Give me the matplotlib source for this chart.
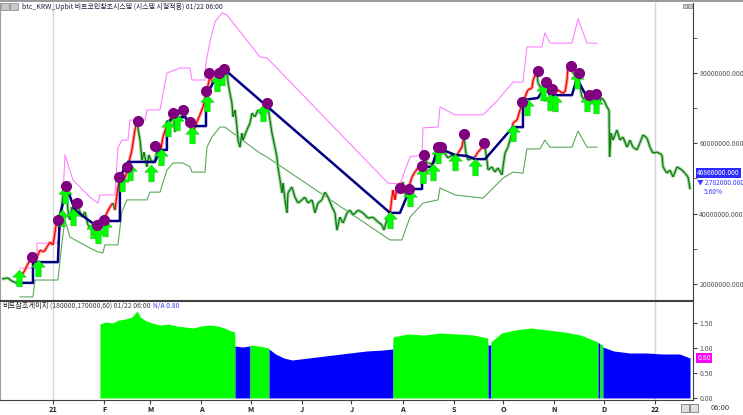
import matplotlib
matplotlib.use('Agg')
import matplotlib.pyplot as plt
import matplotlib.transforms as mtransforms
from matplotlib.collections import LineCollection
from matplotlib.patches import Rectangle
from matplotlib.path import Path
from matplotlib.ticker import FuncFormatter
import numpy as np

plt.rcParams['font.family'] = ['Noto Sans CJK KR', 'DejaVu Sans']

# x values are days counted from 2021-01-01, prices in million KRW
price_day = [-30.9, -27.3, -24.9, -23.0, -21.8, -20.0,
             -17.6, -15.8, -13.9, -12.1, -10.3, -7.9, -5.5, -3.6, -1.8, 0.0, 1.2, 2.4, 3.6,
             4.5, 6.1, 7.9, 9.1, 10.3, 11.5, 13.3, 15.2, 17.6, 19.4, 21.2, 23.6, 25.5, 26.7,
             28.5, 30.3, 32.7, 34.6, 36.4, 37.6, 39.4, 41.8, 43.7, 44.9, 47.9, 49.7, 50.9,
             52.8, 54.0, 55.2, 57.0, 58.2, 60.0, 61.9, 63.1, 64.9,
             66.7, 69.1, 70.9, 72.8, 74.0, 75.8, 78.8, 81.3, 83.1, 84.9,
             87.3, 89.1, 91.0, 93.4, 95.2, 97.0, 100.1, 103.1,
             105.5, 106.4, 107.3, 108.5, 109.2, 110.4, 111.6, 112.2, 113.4, 114.6, 115.2, 117.6,
             119.5, 120.7, 122.5, 124.3, 126.7, 128.6, 129.8,
             131.6, 132.8, 134.6, 135.8, 136.4, 137.7, 138.9, 139.5, 140.7, 141.9, 142.5, 144.9,
             146.7, 148.6, 151.0, 152.8, 154.6, 157.1, 158.9, 160.7, 163.1, 164.9, 166.8, 169.2,
             171.0, 172.2, 174.0, 175.9, 178.3, 180.1,
             182.0, 185.0, 188.0, 191.0, 194.0, 197.1, 199.5, 200.7, 202.5, 204.4,
             205.6, 206.2, 207.4, 208.6, 210.4, 211.6, 212.2, 213.5, 214.7, 215.3, 217.7, 219.5,
             221.3, 223.8, 225.6, 227.4, 230.4, 232.9, 233.5, 235.9, 237.7, 239.5, 242.0, 243.8,
             245.6, 248.0, 249.2, 250.4, 251.7, 254.1, 255.9, 257.7, 260.1, 261.4, 263.2, 263.8,
             266.2, 268.0, 269.8, 272.3, 272.9, 274.1, 275.9, 278.3,
             278.9, 281.4, 283.2, 285.0, 288.0, 290.5, 291.1, 293.5,
             294.1, 296.5, 298.3, 300.2, 302.6, 304.4, 306.2, 308.7, 310.5, 311.7, 312.3, 314.1,
             315.3, 317.8, 319.6, 320.8, 322.6, 324.4, 326.8, 328.7, 330.5, 332.9, 334.7, 335.9,
             337.2, 337.5, 338.4, 339.6, 342.0, 343.8, 345.6, 348.1, 349.9, 351.7, 354.1, 355.9,
             357.8, 360.2, 362.0, 363.8, 366.3, 369.3, 369.9, 372.3, 374.1, 376.0, 378.4, 381.4,
             383.2, 385.1, 386.3]
price_mkrw = [21.4, 21.7, 20.8, 20.5, 20.0, 22.0,
              23.4, 25.1, 26.8, 27.7, 26.8, 29.6, 29.1, 30.5, 31.9, 31.1, 34.5, 38.2, 39.0,
              36.2, 45.9, 47.6, 41.0, 38.2, 41.9, 39.6, 41.9, 39.0, 40.5, 36.8, 35.3, 34.5, 33.3,
              38.2, 37.6, 40.2, 41.9, 43.0, 41.0, 47.6, 51.5, 50.1, 52.4, 58.1, 63.8, 66.1,
              60.9, 55.2, 57.5, 53.3, 56.7, 54.4, 55.2, 58.1, 56.7,
              61.8, 65.2, 66.6, 68.6, 63.2, 68.6, 69.5, 66.6, 64.6, 62.9,
              66.1, 68.1, 70.3, 75.2, 78.9, 77.2, 80.0, 81.4,
              80.0, 76.6, 74.3, 71.5, 67.5, 69.5, 64.6, 60.9, 58.9, 62.9, 60.9, 63.8,
              65.8, 68.6, 67.5, 69.5, 68.1, 70.3, 71.5,
              66.6, 62.9, 58.9, 56.1, 53.3, 49.6, 45.9, 48.7, 43.9, 40.2, 45.9, 47.6,
              44.7, 43.0, 43.9, 44.7, 43.0, 43.9, 40.2, 43.0, 43.9, 46.1, 44.7, 41.9,
              40.2, 35.3, 39.0, 37.3, 40.2, 41.0,
              39.6, 41.0, 40.2, 38.7, 39.0, 37.6, 36.8, 35.3, 38.2, 40.2,
              44.7, 46.7, 43.9, 47.6, 48.7, 47.9, 49.0, 45.5, 44.7, 46.7, 50.4, 51.8,
              53.0, 54.4, 55.2, 54.4, 54.4, 55.8, 58.1, 58.9, 57.2, 55.8, 56.7, 55.2,
              57.2, 58.9, 61.8, 57.2, 55.2, 55.8, 56.1, 57.5, 58.7, 60.1, 55.2, 52.4,
              53.3, 51.8, 53.0, 51.0, 53.3, 57.2, 58.9, 62.9,
              65.8, 66.6, 69.5, 71.7, 75.2, 75.7, 78.0, 80.3,
              77.2, 75.2, 77.2, 75.2, 73.2, 74.3, 75.2, 74.3, 74.6, 78.0, 81.7, 82.3,
              80.0, 78.9, 76.0, 73.2, 72.3, 72.9, 71.5, 72.3, 71.5, 72.9, 71.7, 70.3,
              69.5, 56.1, 62.9, 60.9, 63.8, 60.9, 61.8, 58.9, 60.9, 58.9, 58.1, 60.1,
              62.4, 61.5, 58.9, 57.2, 57.5, 56.7, 53.3, 51.5, 52.4, 50.4, 53.3, 52.4,
              51.5, 50.4, 46.9]
red_spans = [(-18.0, 3.6), (28.0, 36.4), (39.0, 50.9), (66.0, 72.8), (87.0, 103.1),
             (129.0, 129.8), (205.0, 212.2), (217.0, 225.6), (233.0, 235.9), (245.0, 249.2),
             (257.0, 261.4), (278.5, 293.5), (306.0, 314.1)]

stop_day = [-18.8, -12.1, -12.1, 3.0, 4.2, 8.5, 13.3, 25.5, 27.3, 40.6, 40.6, 45.5, 61.9,
            64.9, 69.1, 69.1, 75.2, 80.0, 84.3, 92.8, 92.8, 97.0, 104.3, 204.4, 210.4, 216.5,
            223.8, 223.8, 229.8, 232.9, 236.5, 243.8, 251.0, 255.9, 262.0, 278.9, 285.0, 285.0,
            294.1, 298.3, 301.4, 314.7, 317.8, 320.8, 323.8]
stop_mkrw = [20.3, 20.3, 26.2, 26.2, 39.6, 47.3, 41.0, 36.8, 37.9, 37.9, 50.4, 54.7, 54.7,
             58.1, 58.1, 66.1, 67.2, 67.5, 64.9, 64.9, 73.2, 77.2, 80.9, 40.2, 40.2, 47.0,
             47.0, 53.3, 53.3, 58.1, 58.1, 56.7, 56.4, 55.5, 55.5, 64.6, 64.6, 72.3,
             72.9, 76.0, 73.7, 73.7, 78.6, 75.7, 73.2]

upper_day = [-20.0, -9.7, -9.7, 3.0, 5.5, 7.3, 12.1, 22.4, 27.3, 28.5, 37.6, 39.4, 41.8, 45.5,
             46.7, 55.8, 57.0, 64.9, 69.1, 77.0, 83.1, 84.3, 92.2, 92.8, 95.2, 98.2, 102.5,
             105.5, 125.5, 129.8, 203.1, 210.4, 216.5, 223.8, 224.4, 233.5, 234.7, 243.8,
             260.8, 269.8, 278.9, 285.0, 287.4, 296.5, 298.3, 301.4, 314.7, 318.4, 323.8, 329.9]
upper_mkrw = [24.5, 24.5, 31.6, 31.6, 39.0, 56.7, 49.6, 44.7, 43.0, 45.3, 45.3, 58.7, 60.9, 60.9,
              66.6, 66.6, 69.5, 69.5, 80.0, 81.4, 81.4, 78.0, 78.0, 83.1, 88.8, 94.5, 97.1,
              96.5, 84.6, 84.3, 48.7, 48.4, 56.1, 56.7, 64.4, 64.6, 70.3, 68.1,
              68.1, 72.3, 77.4, 77.4, 87.4, 87.4, 91.4, 88.5, 88.5, 95.4, 88.5, 88.5]

lower_day = [-20.0, -12.1, -10.9, 3.0, 5.5, 7.3, 10.3, 22.4, 27.3, 30.3, 31.5, 39.4, 41.8, 44.9,
             57.0, 58.8, 64.9, 69.1, 72.8, 78.8, 83.1, 84.3, 92.2, 93.4, 96.4, 101.3, 104.3,
             125.5, 129.8, 204.4, 211.6, 216.5, 224.4, 233.5, 234.7, 243.8, 260.8, 272.9,
             278.9, 285.0, 287.4, 295.3, 298.3, 301.4, 314.7, 318.4, 323.8, 329.9]
lower_mkrw = [16.3, 16.3, 21.1, 21.1, 31.9, 38.2, 33.3, 30.2, 29.1, 28.8, 31.1, 31.1, 40.5, 43.9,
              43.9, 46.1, 46.1, 52.4, 54.4, 54.4, 53.3, 51.8, 51.8, 58.9, 61.8, 64.6, 64.6,
              57.2, 56.1, 32.5, 32.5, 39.0, 43.0, 43.9, 47.3, 45.3, 44.4, 50.1,
              51.8, 51.5, 58.4, 58.4, 60.9, 58.9, 58.9, 63.5, 58.9, 58.9]

sell_day = [-12.7, 3.0, 7.9, 14.6, 26.7, 30.9, 40.0, 44.9, 51.5, 61.9, 72.8, 78.8, 83.1, 92.8,
            94.6, 100.7, 103.7, 129.8, 210.4, 215.9, 223.8, 225.0, 233.5, 235.3, 249.2, 261.4,
            284.4, 294.1, 299.0, 302.6, 314.1, 319.0, 325.0, 329.3]
sell_mkrw = [27.7, 38.2, 47.9, 43.0, 36.8, 38.2, 50.4, 53.3, 66.3, 59.2, 68.6, 69.5, 66.1, 74.9,
             80.0, 80.0, 81.1, 71.5, 47.3, 47.0, 53.5, 56.7, 58.9, 58.9, 62.6, 60.1,
             71.7, 80.6, 77.4, 75.4, 82.0, 80.0, 73.7, 74.0]

buy_day = [-20.6, -9.1, 5.5, 7.3, 12.1, 24.3, 27.3, 31.5, 41.8, 46.7, 59.4, 65.5, 69.7, 75.2,
           84.3, 93.4, 99.5, 102.5, 127.3, 204.4, 216.5, 224.4, 230.4, 233.5, 243.8, 255.9,
           278.9, 287.4, 297.1, 301.4, 304.4, 317.8, 323.8, 329.3]
buy_mkrw = [21.7, 24.5, 38.7, 45.3, 39.0, 35.3, 33.9, 35.9, 48.7, 51.8, 51.5, 56.1, 64.4, 66.1,
            62.4, 71.5, 77.2, 78.9, 68.6, 38.2, 44.4, 51.0, 51.8, 56.7, 54.7, 53.3,
            62.9, 70.3, 74.6, 71.7, 71.5, 78.0, 71.5, 70.9]

gauge_day = [28.5, 32.0, 36.0, 40.0, 44.0, 48.0, 51.0, 53.0, 56.0, 60.0, 65.0, 70.0, 75.0,
             80.0, 85.0, 90.0, 95.0, 100.0, 104.0, 108.0, 110.2, 110.4, 115.0, 119.3, 119.5,
             125.0, 130.8, 131.0, 135.0, 140.0, 145.0, 150.0, 160.0, 170.0, 180.0, 190.0, 200.0,
             206.0, 206.2, 215.0, 225.0, 235.0, 245.0, 255.0, 263.6, 263.8, 265.4, 265.6, 272.0,
             280.0, 290.0, 300.0, 310.0, 320.0, 330.3, 330.5, 331.5, 331.7, 333.3, 333.5, 340.0,
             350.0, 360.0, 370.0, 380.0, 386.3]
gauge_val = [1.48, 1.52, 1.50, 1.56, 1.58, 1.62, 1.74, 1.62, 1.55, 1.50, 1.46, 1.48, 1.44,
             1.42, 1.40, 1.44, 1.46, 1.44, 1.40, 1.34, 1.32, 1.04, 1.02, 1.04, 1.06,
             1.04, 1.00, 0.98, 0.88, 0.80, 0.76, 0.78, 0.82, 0.86, 0.90, 0.94, 0.96,
             0.98, 1.22, 1.28, 1.26, 1.30, 1.28, 1.26, 1.20, 1.06, 1.06, 1.12, 1.30,
             1.36, 1.40, 1.36, 1.32, 1.26, 1.12, 1.10, 1.10, 1.08, 1.06, 1.02, 0.94,
             0.90, 0.90, 0.88, 0.88, 0.80]
# 1 = green regime, 0 = blue regime, one flag per segment start
gauge_up = [1, 1, 1, 1, 1, 1, 1, 1, 1, 1, 1, 1, 1,
            1, 1, 1, 1, 1, 1, 1, 1, 0, 0, 0, 1,
            1, 1, 0, 0, 0, 0, 0, 0, 0, 0, 0, 0,
            0, 1, 1, 1, 1, 1, 1, 1, 0, 0, 1, 1,
            1, 1, 1, 1, 1, 1, 0, 0, 1, 1, 0, 0,
            0, 0, 0, 0, 0]

month_day = [0, 31, 59, 90, 120, 151, 181, 212, 243, 273, 304, 334, 365]
month_label = ['21', 'F', 'M', 'A', 'M', 'J', 'J', 'A', 'S', 'O', 'N', 'D', '22']

last_price = 46866000
last_change = 2782000
last_pct = 5.60
gauge_last = 0.80

W, H = 743, 415
fig = plt.figure(figsize=(W / 100, H / 100), dpi=100)
fig.patch.set_facecolor('white')

ax = fig.add_axes([0, 1 - 300 / H, 693 / W, 297 / H])
ax2 = fig.add_axes([0, 1 - 400 / H, 693 / W, 99 / H])

for a in (ax, ax2):
    a.set_xlim(-32.1, 388.1)
    a.set_facecolor('white')
    a.axvline(0, color='#d4d4d4', lw=1, zorder=0)
    a.axvline(365, color='#d4d4d4', lw=1, zorder=0)
    a.spines['left'].set_color('#a0a0a0')
    a.spines['right'].set_color('#404040')
    a.spines['bottom'].set_color('#404040')
    a.spines['top'].set_color('#404040')
    a.yaxis.tick_right()
ax.spines['top'].set_visible(False)
ax.set_ylim(15.42, 99.91)
ax2.set_ylim(-0.04, 1.94)

# price axis
ax.set_yticks([20, 40, 60, 80])
ax.set_yticks([30, 50, 70, 90], minor=True)
ax.yaxis.set_major_formatter(FuncFormatter(lambda v, _: f"{v * 1e6:.3f}"))
ax.tick_params(axis='y', which='both', direction='out', length=3, pad=1.5,
               labelsize=5, color='#404040', labelcolor='#555555')
ax.tick_params(axis='x', which='both', bottom=False, labelbottom=False)

ax2.set_yticks([0, 0.5, 1.0, 1.5])
ax2.yaxis.set_major_formatter(FuncFormatter(lambda v, _: f"{v:.2f}"))
ax2.tick_params(axis='y', direction='out', length=3, pad=1.5,
                labelsize=5, color='#404040', labelcolor='#555555')
ax2.set_xticks(month_day)
ax2.set_xticklabels(month_label, fontweight='bold')
ax2.tick_params(axis='x', direction='out', length=3, pad=1, labelsize=5.3,
                color='#404040', labelcolor='#202020')

# envelopes
ax.plot(upper_day, upper_mkrw, color='#ff80ff', lw=0.8, zorder=2)
ax.plot(lower_day, lower_mkrw, color='#5aa85a', lw=0.8, zorder=2)

# price line, red while trending up
pts = np.column_stack([price_day, price_mkrw])
segs = np.stack([pts[:-1], pts[1:]], axis=1)
is_red = [any(a < d <= b for a, b in red_spans) for d in price_day[1:]]
halo = ['#ff9c9c' if r else '#9fd59f' for r in is_red]
core = ['#ee0000' if r else '#0c7c0c' for r in is_red]
ax.add_collection(LineCollection(segs, colors=halo, linewidths=2.4, zorder=3))
ax.add_collection(LineCollection(segs, colors=core, linewidths=0.9, zorder=4))

# trailing stop
ax.plot(stop_day, stop_mkrw, color='#000080', lw=1.8, zorder=5)

# signals
arrow = Path([(0, 0.5), (0.4, 0.08), (0.16, 0.08), (0.16, -0.5), (-0.16, -0.5),
              (-0.16, 0.08), (-0.4, 0.08), (0, 0.5)],
             [Path.MOVETO] + [Path.LINETO] * 6 + [Path.CLOSEPOLY])
ax.plot(buy_day, buy_mkrw, ls='none', marker=arrow, ms=12, mfc='#00ff00',
        mec='#22bb22', mew=0.4, zorder=6)
ax.plot(sell_day, sell_mkrw, ls='none', marker='o', ms=7, mfc='#800080',
        mec='#800080', zorder=7)

# gauge fill, grouped by regime
i = 0
n = len(gauge_day)
while i < n - 1:
    j = i
    while j < n - 1 and gauge_up[j] == gauge_up[i]:
        j += 1
    col = '#00ff00' if gauge_up[i] else '#0000ff'
    ax2.fill_between(gauge_day[i:j + 1], 0, gauge_val[i:j + 1], color=col, lw=0, zorder=2)
    i = j

# right side value boxes (box sits a little above the last price)
tr = mtransforms.blended_transform_factory(ax.transAxes, ax.transData)
ax.annotate(f"{last_price:.3f}", xy=(1.006, last_price / 1e6), xycoords=tr,
            xytext=(0, 12), textcoords='offset points', fontsize=4.8,
            color='white', va='center', ha='left', annotation_clip=False,
            bbox=dict(boxstyle='square,pad=0.12', fc='#2c2cff', ec='none'))
ax.annotate(f"▼ {last_change:.3f}", xy=(1.006, last_price / 1e6), xycoords=tr,
            xytext=(0, 5), textcoords='offset points', fontsize=4.8, color='#3a3aff',
            va='center', ha='left', annotation_clip=False)
ax.annotate(f"{last_pct:.2f}%", xy=(1.006, last_price / 1e6), xycoords=tr,
            xytext=(5, -2), textcoords='offset points', fontsize=4.8, color='#3a3aff',
            va='center', ha='left', annotation_clip=False)
tr2 = mtransforms.blended_transform_factory(ax2.transAxes, ax2.transData)
ax2.text(1.006, gauge_last, f"{gauge_last:.2f}", transform=tr2, fontsize=5,
         color='white', va='center', ha='left', clip_on=False,
         bbox=dict(boxstyle='square,pad=0.12', fc='#ff00ff', ec='none'))

# window chrome
fig.patches.append(Rectangle((0, 1 - 2 / H), 1, 2 / H, transform=fig.transFigure,
                             fc='#9a9a9a', ec='none'))
for x0 in (1, 10):
    fig.patches.append(Rectangle((x0 / W, 1 - 10 / H), 8 / W, 7 / H,
                                 transform=fig.transFigure, fc='#c8c8c8', ec='#808080', lw=0.5))
for x0 in (683, 688):
    fig.patches.append(Rectangle((x0 / W, 1 - 8 / H), 4 / W, 4 / H,
                                 transform=fig.transFigure, fc='#c8c8c8', ec='#808080', lw=0.5))
for x0 in (681, 690):
    fig.patches.append(Rectangle((x0 / W, 1 - 412 / H), 8 / W, 8 / H,
                                 transform=fig.transFigure, fc='#e0e0e0', ec='#606060', lw=0.5))

fig.text(22 / W, 1 - 7 / H, "btc_KRW_Upbit 비트코인참조시스템 (시스템 시험적용) 01/22 06:00",
         fontsize=5.0, color='#202040', va='center', ha='left')
fig.text(2 / W, 1 - 306 / H, "비트참조게이지", fontsize=5.2, color='#202020', va='center', ha='left')
fig.text(50 / W, 1 - 306 / H, "(180000,170000,60) 01/22 06:00", fontsize=4.9, color='#404040',
         va='center', ha='left')
fig.text(153 / W, 1 - 306 / H, f"N/A {gauge_last:.2f}", fontsize=4.9, color='#3a3aff',
         va='center', ha='left')
fig.text(720 / W, 1 - 408 / H, "06:00", fontsize=5.5, color='#404040', va='center', ha='center')

fig.savefig('out.png', dpi=100)
